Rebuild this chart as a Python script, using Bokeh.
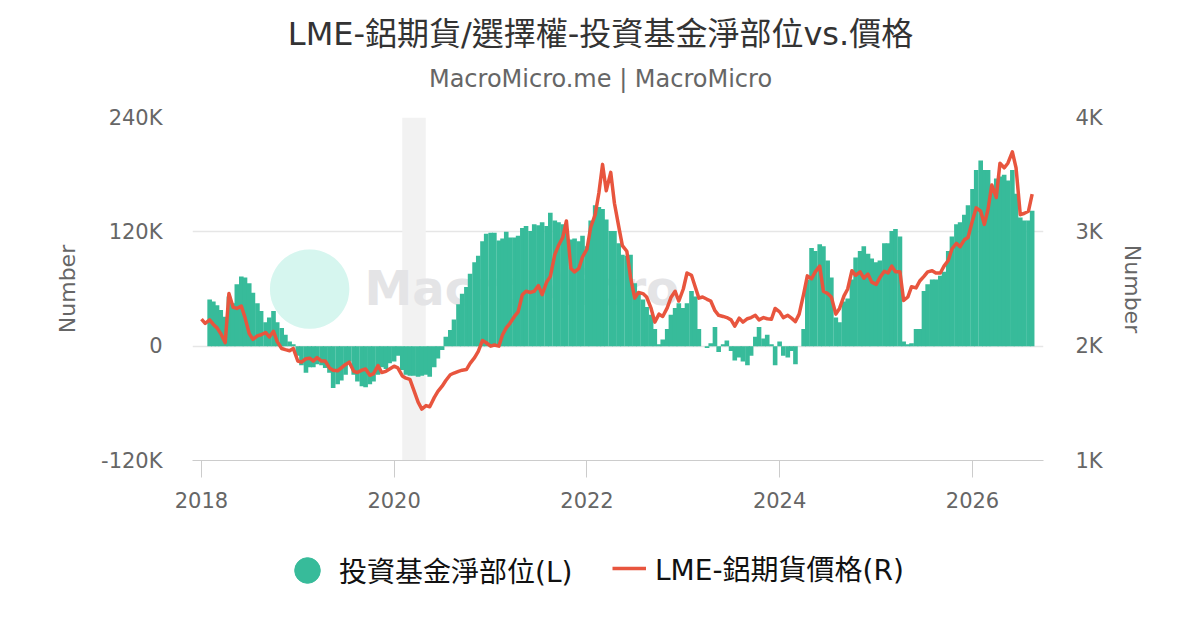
import pandas as pd
from bokeh.plotting import figure
from bokeh.layouts import column
from bokeh.models import (Range1d, LinearAxis, FixedTicker, DatetimeTickFormatter,
                          BoxAnnotation, Label, Legend, LegendItem)
from bokeh.embed import file_html
from bokeh.resources import INLINE

# ---- data (semi-monthly: 1st and 15th of each month) ----
dates = pd.date_range("2018-01-01", "2026-08-15", freq="SMS")

# LME aluminium futures price (USD), right axis
price_2018 = [2236, 2200, 2230, 2190, 2160, 2110, 2030, 2460, 2340, 2330, 2350, 2250,
              2110, 2060, 2090, 2100, 2120, 2080, 2130, 2040, 1980, 1970, 1960, 1980]
price_2019 = [1870, 1860, 1890, 1895, 1870, 1900, 1870, 1870, 1810, 1790, 1785, 1810,
              1840, 1860, 1780, 1770, 1790, 1800, 1745, 1760, 1830, 1770, 1780, 1800]
price_2020 = [1825, 1810, 1740, 1720, 1710, 1620, 1510, 1450, 1480, 1470, 1550, 1605,
              1650, 1700, 1750, 1765, 1780, 1790, 1795, 1850, 1900, 1955, 2050, 2030]
price_2021 = [2000, 2010, 2000, 2100, 2160, 2200, 2260, 2300, 2450, 2480, 2470, 2480,
              2530, 2450, 2560, 2610, 2800, 2880, 2950, 3095, 2680, 2650, 2680, 2780]
price_2022 = [2850, 3040, 3150, 3340, 3590, 3360, 3520, 3250, 3050, 2880, 2830, 2600,
              2420, 2470, 2460, 2430, 2330, 2210, 2280, 2260, 2335, 2425, 2480, 2395]
price_2023 = [2500, 2640, 2620, 2520, 2420, 2430, 2410, 2395, 2310, 2270, 2260, 2250,
              2230, 2175, 2245, 2210, 2240, 2250, 2270, 2230, 2250, 2240, 2235, 2330]
price_2024 = [2300, 2250, 2270, 2245, 2215, 2280, 2455, 2615, 2590, 2650, 2700, 2480,
              2460, 2430, 2280, 2330, 2440, 2500, 2660, 2620, 2650, 2595, 2630, 2560]
price_2025 = [2540, 2600, 2655, 2640, 2700, 2650, 2650, 2400, 2430, 2520, 2510, 2570,
              2610, 2650, 2660, 2640, 2640, 2700, 2750, 2850, 2900, 2870, 2930, 2950]
price_2026 = [3100, 3210, 3180, 3065, 3200, 3410, 3300, 3600, 3560, 3600, 3700, 3560,
              3150, 3160, 3180, 3330]

# Investment funds net position (thousand contracts), left axis
net_2018 = [0, 0, 49, 47, 43, 38, 31, 52, 45, 65, 73, 72,
            66, 56, 45, 37, 25, 30, 37, 25, 19, 12, 5, 2]
net_2019 = [-10, -20, -28, -22, -22, -19, -20, -23, -28, -44, -40, -36,
            -30, -16, -30, -37, -42, -43, -40, -37, -30, -22, -24, -18]
net_2020 = [-16, -10, -25, -30, -31, -31, -32, -31, -30, -32, -22, -13,
            -4, 10, 17, 28, 44, 55, 62, 76, 88, 95, 110, 118]
net_2021 = [119, 119, 111, 113, 120, 114, 114, 116, 124, 126, 121, 128,
            127, 130, 126, 140, 132, 130, 128, 123, 112, 113, 110, 116]
net_2022 = [105, 132, 148, 146, 144, 133, 121, 121, 108, 96, 95, 96,
            66, 56, 49, 41, 33, 18, 2, 7, 18, 33, 40, 45]
net_2023 = [40, 45, 58, 52, 18, 0, -2, 3, 20, -6, 2, 6,
            -5, -15, -12, -16, -20, -10, 10, 20, 8, 12, 2, -20]
net_2024 = [5, -10, -12, -5, -19, 0, 18, 70, 103, 100, 107, 105,
            90, 72, 30, 25, 47, 50, 70, 93, 100, 105, 97, 92]
net_2025 = [88, 90, 108, 108, 121, 123, 115, 5, 2, 3, 18, 18,
            58, 65, 70, 70, 74, 78, 100, 115, 128, 130, 138, 148]
net_2026 = [165, 185, 195, 185, 185, 165, 176, 178, 180, 174, 185, 160,
            135, 132, 132, 142]

price = (price_2018 + price_2019 + price_2020 + price_2021 + price_2022 +
         price_2023 + price_2024 + price_2025 + price_2026)
net = (net_2018 + net_2019 + net_2020 + net_2021 + net_2022 +
       net_2023 + net_2024 + net_2025 + net_2026)

left_ticks = [-120, 0, 120, 240]
left_labels = ["-120K", "0", "120K", "240K"]
right_ticks = [1000, 2000, 3000, 4000]
right_labels = ["1K", "2K", "3K", "4K"]
year_ticks = ["2018-01-01", "2020-01-01", "2022-01-01", "2024-01-01", "2026-01-01"]
recession = ("2020-02-01", "2020-04-30")

title_text = "LME-鋁期貨/選擇權-投資基金淨部位vs.價格"
subtitle_text = "MacroMicro.me | MacroMicro"
net_label = "投資基金淨部位(L)"
price_label = "LME-鋁期貨價格(R)"

BAR = "#37bb9a"
LINE = "#e8553e"
FONT = "DejaVu Sans, Noto Sans CJK TC"
W = 1184
FL, FR = 192, 1043   # frame left / right in page pixels


def ms(s):
    return pd.Timestamp(s).value // 10**6


def blank(height):
    f = figure(width=W, height=height, output_backend="svg", toolbar_location=None,
               x_range=Range1d(0, 1), y_range=Range1d(0, 1),
               x_axis_location=None, y_axis_location=None,
               min_border_left=FL, min_border_right=W - FR,
               min_border_top=0, min_border_bottom=0)
    f.outline_line_color = None
    f.xgrid.visible = False
    f.ygrid.visible = False
    return f


# ---- header (titles) ----
head = blank(97)
head.add_layout(Label(x=600 - FL, y=64, x_units="screen", y_units="screen", text=title_text,
                      text_align="center", text_baseline="middle", text_font_size="32px",
                      text_font=FONT, text_color="#333333"))
head.add_layout(Label(x=600 - FL, y=19, x_units="screen", y_units="screen",
                      text=subtitle_text, text_align="center", text_baseline="middle",
                      text_font_size="24px", text_font="DejaVu Sans", text_color="#666666"))

# ---- main chart ----
p = figure(width=W, height=433, x_axis_type="datetime", output_backend="svg",
           toolbar_location=None,
           x_range=Range1d(ms("2017-11-28"), ms("2026-09-27")),
           y_range=Range1d(-120, 240),
           min_border_left=FL, min_border_right=W - FR,
           min_border_top=20, min_border_bottom=70)
p.outline_line_color = None
p.background_fill_color = "white"
p.xgrid.visible = False
p.ygrid.grid_line_color = "#e6e6e6"
p.ygrid.grid_line_width = 1.5

p.add_layout(BoxAnnotation(left=ms(recession[0]), right=ms(recession[1]),
                           fill_color="#f2f2f2", fill_alpha=1.0, line_color=None,
                           level="underlay"))

# watermark
p.add_layout(Label(x=117, y=181, x_units="screen", y_units="screen", text="●",
                   text_align="center", text_baseline="middle", text_font_size="104px",
                   text_font="DejaVu Sans", text_color="#d6f6ef", level="underlay"))
p.add_layout(Label(x=172, y=173, x_units="screen", y_units="screen", text="MacroMicro",
                   text_align="left", text_baseline="alphabetic", text_font_size="48px",
                   text_font="DejaVu Sans", text_font_style="bold", text_color="#e4e4e6",
                   level="underlay"))

p.vbar(x=dates, top=net, bottom=0, width=17.5 * 86400000, fill_color=BAR, line_color=None)

p.extra_y_ranges = {"price": Range1d(1000, 4000)}
p.line(x=dates, y=price, y_range_name="price", line_color=LINE, line_width=3.5,
       line_join="round")

xa = p.xaxis[0]
xa.ticker = FixedTicker(ticks=[ms(t) for t in year_ticks])
xa.formatter = DatetimeTickFormatter(years="%Y", months="%Y", days="%Y")
xa.axis_line_color = "#cccccc"
xa.major_tick_line_color = "#cccccc"
xa.major_tick_out = 17
xa.major_tick_in = 0
xa.minor_tick_line_color = None
xa.major_label_standoff = 14
xa.major_label_text_font = "DejaVu Sans"
xa.major_label_text_font_size = "21px"
xa.major_label_text_color = "#666666"

ya = p.yaxis[0]
ya.ticker = FixedTicker(ticks=left_ticks)
ya.major_label_overrides = dict(zip(left_ticks, left_labels))
ya.axis_line_color = None
ya.major_tick_line_color = None
ya.minor_tick_line_color = None
ya.major_tick_out = 0
ya.major_label_standoff = 30
ya.major_label_text_font = "DejaVu Sans"
ya.major_label_text_font_size = "21px"
ya.major_label_text_color = "#666666"
ya.axis_label = "Number"
ya.axis_label_text_font = "DejaVu Sans"
ya.axis_label_text_font_size = "22px"
ya.axis_label_text_font_style = "normal"
ya.axis_label_text_color = "#666666"
ya.axis_label_standoff = 18

ra = LinearAxis(y_range_name="price", ticker=FixedTicker(ticks=right_ticks),
                axis_label="Number")
ra.major_label_overrides = dict(zip(right_ticks, right_labels))
ra.axis_line_color = None
ra.major_tick_line_color = None
ra.minor_tick_line_color = None
ra.major_tick_out = 0
ra.major_label_standoff = 32
ra.major_label_text_font = "DejaVu Sans"
ra.major_label_text_font_size = "21px"
ra.major_label_text_color = "#666666"
ra.axis_label_text_font = "DejaVu Sans"
ra.axis_label_text_font_size = "22px"
ra.axis_label_text_font_style = "normal"
ra.axis_label_text_color = "#666666"
ra.axis_label_standoff = 14
p.add_layout(ra, "right")

# ---- footer (legend) ----
foot = blank(84)
# legend-only renderers: one point placed outside the footer's visible range
dot = foot.scatter(x=[-5], y=[-5], marker="circle", size=10, fill_color=BAR, line_color=BAR)
seg = foot.line(x=[-5, -4], y=[-5, -5], line_color=LINE, line_width=3.5)
common = dict(orientation="horizontal", padding=0, margin=0, border_line_alpha=0,
              background_fill_alpha=0, label_text_font=FONT, label_text_font_size="28px",
              label_text_color="#111111", label_text_baseline="middle")
foot.add_layout(Legend(items=[LegendItem(label=net_label, renderers=[dot])],
                       location=(275 - FL, 12), glyph_width=64, glyph_height=64,
                       label_standoff=0, **common))
foot.add_layout(Legend(items=[LegendItem(label=price_label, renderers=[seg])],
                       location=(612 - FL, 26), glyph_width=34, glyph_height=30,
                       label_standoff=9, **common))

layout = column(head, p, foot, spacing=0)
open("out.html", "w").write(file_html(layout, INLINE))
